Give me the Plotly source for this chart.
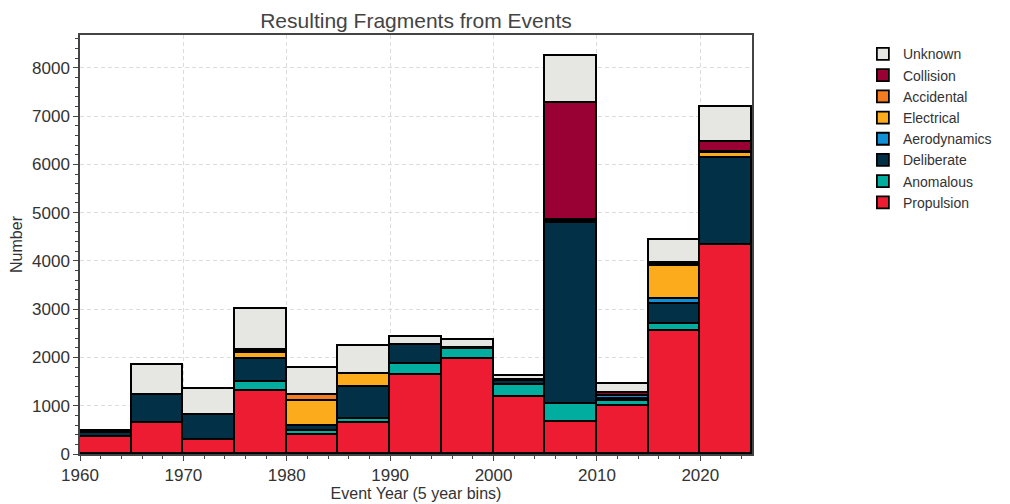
import plotly.graph_objects as go

# 5 year bins, left edges
bin_starts = [1960, 1965, 1970, 1975, 1980, 1985, 1990, 1995, 2000, 2005, 2010, 2015, 2020]

propulsion   = [350, 640, 290, 1310, 395, 635, 1645, 1970, 1190, 665, 995, 2550, 4320]
anomalous    = [0, 0, 0, 175, 80, 95, 215, 210, 245, 380, 110, 145, 10]
deliberate   = [95, 580, 520, 485, 95, 665, 400, 20, 70, 3750, 30, 410, 1800]
aerodynamics = [0, 0, 0, 0, 20, 0, 0, 0, 20, 30, 70, 100, 0]
electrical   = [0, 0, 0, 115, 515, 255, 0, 0, 0, 20, 0, 700, 110]
accidental   = [0, 0, 0, 45, 110, 0, 0, 0, 0, 0, 0, 20, 10]
collision    = [0, 0, 0, 30, 0, 0, 0, 0, 10, 2420, 50, 30, 220]
unknown      = [25, 620, 545, 850, 560, 595, 170, 170, 90, 980, 190, 480, 710]

series = [
    ("Propulsion", propulsion, "#ed1c33"),
    ("Anomalous", anomalous, "#00ad9f"),
    ("Deliberate", deliberate, "#023047"),
    ("Aerodynamics", aerodynamics, "#1190d8"),
    ("Electrical", electrical, "#fcab1c"),
    ("Accidental", accidental, "#f47b20"),
    ("Collision", collision, "#990033"),
    ("Unknown", unknown, "#e6e7e3"),
]

centers = [b + 2.5 for b in bin_starts]

fig = go.Figure()
for name, vals, col in series:
    fig.add_trace(go.Bar(
        x=centers, y=vals, width=5, name=name,
        marker=dict(color=col, line=dict(color="black", width=1.8)),
    ))

axis_common = dict(
    showline=True, linecolor="#444", linewidth=1.5, mirror=True,
    ticks="outside", tickcolor="#444", ticklen=5, tickwidth=1.2,
    showgrid=True, gridcolor="#dcdcdc", griddash="4px,3px", gridwidth=1,
    zeroline=False, tickfont=dict(size=17, color="#333"), automargin=False,
)

# page body has an 8px default margin, so the figure is a bit smaller than the window
fig.update_layout(
    barmode="stack", bargap=0,
    width=1002, height=496,
    margin=dict(l=72, r=258, t=27, b=50),
    paper_bgcolor="white", plot_bgcolor="white",
    font=dict(family="Liberation Sans, Arial, sans-serif", color="#333"),
    title=dict(text="Resulting Fragments from Events", x=0.5, xanchor="center",
               xref="paper", y=0.975, yanchor="middle", font=dict(size=21, color="#444")),
    legend=dict(traceorder="reversed", x=1.165, xanchor="left", y=0.992, yanchor="top",
                font=dict(size=14, color="#333"), itemwidth=30, tracegroupgap=0),
    xaxis=dict(range=[1960, 2025], tickvals=[1960, 1970, 1980, 1990, 2000, 2010, 2020],
               minor=dict(dtick=2, tick0=1960, ticks="outside", ticklen=3, tickcolor="#444", showgrid=False),
               title=dict(text="Event Year (5 year bins)", font=dict(size=16, color="#333"), standoff=4),
               **axis_common),
    yaxis=dict(range=[0, 8680], dtick=1000,
               minor=dict(dtick=200, ticks="outside", ticklen=3, tickcolor="#444", showgrid=False),
               title=dict(text="Number", font=dict(size=16, color="#333"), standoff=6),
               **axis_common),
)

fig.write_html("out.html")
